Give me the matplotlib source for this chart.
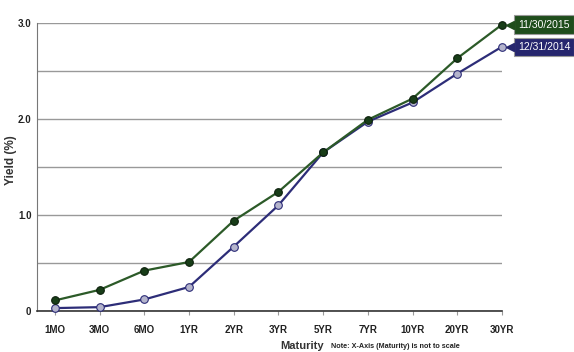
import matplotlib.pyplot as plt
import matplotlib.transforms as mtrans

maturities = ["1MO", "3MO", "6MO", "1YR", "2YR", "3YR", "5YR", "7YR", "10YR", "20YR", "30YR"]
yield_2015 = [0.11, 0.22, 0.42, 0.51, 0.94, 1.24, 1.65, 1.99, 2.21, 2.63, 2.98]
yield_2014 = [0.03, 0.04, 0.12, 0.25, 0.67, 1.10, 1.65, 1.97, 2.17, 2.47, 2.75]
label_2015 = "11/30/2015"
label_2014 = "12/31/2014"

green_line = "#2c5a28"
green_dot = "#183d18"
blue_line = "#2d2d78"
blue_dot = "#b4b4cc"

plt.rcParams["font.family"] = ["Liberation Sans", "DejaVu Sans"]

fig = plt.figure(figsize=(5.74, 3.52), dpi=100)
ax = fig.add_axes([0.0645, 0.1165, 0.81, 0.819])

x = list(range(len(maturities)))
ax.plot(x, yield_2014, color=blue_line, lw=1.6, marker="o", ms=5.5,
        mfc=blue_dot, mec=blue_line, mew=0.8, clip_on=False, zorder=3)
ax.plot(x, yield_2015, color=green_line, lw=1.6, marker="o", ms=5.5,
        mfc=green_dot, mec="#0c200c", mew=0.8, clip_on=False, zorder=4)

ax.set_xlim(-0.4, len(maturities) - 1)
ax.set_ylim(0, 3)
ax.set_yticks([0, 0.5, 1, 1.5, 2, 2.5, 3])
ax.set_yticklabels(["0", "", "1.0", "", "2.0", "", "3.0"])
ax.set_xticks(x)
ax.set_xticklabels(maturities)
ax.grid(axis="y", color="#999999", lw=1)
ax.set_axisbelow(True)
for s in ["top", "right"]:
    ax.spines[s].set_visible(False)
ax.spines["left"].set_color("#777777")
ax.spines["bottom"].set_color("#333333")
ax.spines["bottom"].set_linewidth(1.2)
ax.tick_params(axis="y", length=0, pad=4)
ax.tick_params(axis="x", length=3, color="#999999", pad=7)
for t in ax.get_xticklabels() + ax.get_yticklabels():
    t.set_fontsize(7)
    t.set_fontweight("bold")
    t.set_color("#222222")

fig.text(0.019, 0.545, "Yield (%)", rotation=90, ha="center", va="center",
         fontsize=8.5, fontweight="bold", color="#333333")
fig.text(0.489, 0.0085, "Maturity", ha="left", va="baseline",
         fontsize=8, fontweight="bold", color="#333333")
fig.text(0.577, 0.011, "Note: X-Axis (Maturity) is not to scale", ha="left", va="baseline",
         fontsize=5.2, fontweight="bold", color="#222222")

# end-of-line date tags with a small left-pointing arrow
last = len(maturities) - 1
shift = mtrans.ScaledTranslation(6.0 / 72, 0, fig.dpi_scale_trans)
for vals, lab, fc in [(yield_2015, label_2015, "#1f4d1c"), (yield_2014, label_2014, "#26266e")]:
    ax.annotate(lab, xy=(last, vals[-1]), xytext=(11.5, 0),
                textcoords="offset points", ha="left", va="center",
                fontsize=7.5, color="white", annotation_clip=False, zorder=6,
                bbox=dict(boxstyle="square,pad=0.4", fc=fc, ec="#999999", lw=0.8))
    ax.plot([last], [vals[-1]], marker="<", ms=6, color=fc, mec=fc,
            transform=ax.transData + shift, clip_on=False, zorder=7)

fig.savefig("out.png")
